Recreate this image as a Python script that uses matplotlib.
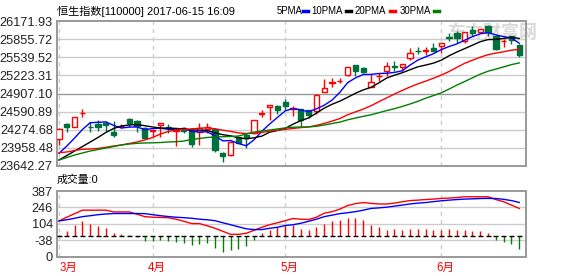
import numpy as np
import matplotlib
matplotlib.use('Agg')
import matplotlib.pyplot as plt
from matplotlib.lines import Line2D

plt.rcParams['font.family'] = ['Liberation Sans', 'Noto Sans CJK SC', 'DejaVu Sans']

# 日K数据 2017-03-16 ~ 2017-06-15
opens = [24113, 24375, 24317, 24562, 24331, 24375, 24392, 24235, 24335, 24462,
         24427, 24300, 24258, 24358, 24323, 24253, 24300, 24258, 24241, 24288,
         24288, 23874, 23834, 24153, 24183, 24218, 24558, 24666, 24689, 24764,
         24645, 24631, 24611, 24602, 24928, 25099, 25125, 25230, 25404, 25347,
         25026, 25204, 25294, 25387, 25369, 25526, 25657, 25657, 25701, 25731,
         25893, 25963, 25828, 26020, 25980, 26085, 25902, 25823, 25905, 25753]
highs = [24297, 24384, 24497, 24645, 24410, 24445, 24419, 24427, 24370, 24474,
         24445, 24314, 24270, 24387, 24375, 24288, 24317, 24270, 24387, 24387,
         24305, 23887, 24070, 24166, 24218, 24453, 24619, 24706, 24698, 24806,
         24689, 24637, 24619, 24890, 25155, 25172, 25183, 25369, 25413, 25364,
         25247, 25265, 25457, 25469, 25430, 25701, 25713, 25713, 25788, 25792,
         25963, 25992, 25984, 26080, 26041, 26102, 25928, 25853, 25910, 25771]
lows = [24009, 24241, 24314, 24502, 24235, 24253, 24253, 24148, 24310, 24323,
        24235, 24122, 24148, 24153, 24218, 23991, 24218, 23982, 24009, 24218,
        23887, 23717, 23817, 24035, 23956, 24201, 24502, 24445, 24549, 24619,
        24514, 24340, 24480, 24549, 24925, 25015, 25085, 25218, 25218, 25260,
        25021, 25125, 25207, 25294, 25294, 25497, 25596, 25573, 25643, 25614,
        25818, 25788, 25788, 25905, 25977, 25910, 25666, 25718, 25771, 25544]
closes = [24288, 24317, 24492, 24567, 24323, 24323, 24358, 24183, 24340, 24401,
          24340, 24126, 24265, 24387, 24300, 24279, 24258, 24026, 24310, 24323,
          23921, 23817, 24066, 24044, 24126, 24445, 24562, 24702, 24619, 24695,
          24649, 24445, 24532, 24881, 24998, 25102, 25130, 25364, 25305, 25287,
          25113, 25212, 25382, 25378, 25427, 25614, 25649, 25663, 25654, 25788,
          25884, 25875, 25980, 25963, 26038, 25985, 25683, 25828, 25846, 25579]

ma5 = [23864, 23991, 24131, 24279, 24398, 24405, 24412, 24351, 24305, 24321,
       24324, 24277, 24295, 24303, 24284, 24272, 24298, 24249, 24235, 24239,
       24167, 24080, 24087, 24035, 23995, 24099, 24248, 24375, 24490, 24604,
       24645, 24621, 24588, 24640, 24703, 24792, 24928, 25096, 25179, 25239,
       25240, 25256, 25260, 25275, 25303, 25403, 25490, 25546, 25601, 25673,
       25727, 25772, 25837, 25898, 25949, 25968, 25929, 25900, 25875, 25785]
ma10 = [23747, 23825, 23904, 23982, 24061, 24140, 24227, 24297, 24340, 24359,
        24365, 24345, 24323, 24305, 24302, 24298, 24288, 24272, 24269, 24262,
        24220, 24188, 24169, 24134, 24117, 24134, 24164, 24232, 24262, 24300,
        24372, 24434, 24481, 24565, 24652, 24719, 24774, 24841, 24911, 24970,
        25015, 25092, 25177, 25226, 25270, 25321, 25373, 25403, 25437, 25488,
        25565, 25631, 25690, 25750, 25811, 25848, 25851, 25868, 25888, 25867]
ma20 = [23874, 23887, 23913, 23934, 23939, 23948, 23969, 23991, 24009, 24035,
        24061, 24096, 24140, 24201, 24244, 24270, 24279, 24291, 24300, 24310,
        24291, 24267, 24246, 24220, 24209, 24216, 24227, 24251, 24265, 24281,
        24297, 24312, 24324, 24351, 24385, 24426, 24469, 24537, 24586, 24635,
        24694, 24764, 24830, 24897, 24961, 25021, 25075, 25122, 25174, 25228,
        25291, 25363, 25434, 25488, 25540, 25584, 25612, 25635, 25663, 25676]
ma30 = [23747, 23790, 23834, 23869, 23904, 23930, 23956, 23982, 24009, 24026,
        24038, 24044, 24047, 24052, 24061, 24066, 24078, 24105, 24122, 24140,
        24148, 24153, 24157, 24166, 24201, 24235, 24253, 24270, 24288, 24307,
        24319, 24323, 24324, 24335, 24357, 24384, 24408, 24448, 24479, 24509,
        24535, 24572, 24609, 24642, 24681, 24724, 24771, 24825, 24871, 24919,
        24984, 25054, 25116, 25181, 25244, 25296, 25333, 25371, 25411, 25441]

dif = [128, 160, 191, 221, 221, 221, 221, 206, 206, 206, 186, 165, 160, 158, 156,
       143, 125, 105, 105, 86, 64, 38, 12, 12, 21, 47, 73, 95, 112, 130, 149, 143,
       140, 160, 195, 208, 230, 261, 278, 287, 280, 275, 274, 282, 294, 304, 308,
       313, 317, 323, 326, 330, 337, 337, 337, 337, 313, 294, 265, 236]
dea = [128, 138, 151, 165, 173, 182, 188, 192, 192, 192, 192, 191, 182, 173, 166,
       160, 156, 151, 143, 138, 130, 112, 95, 77, 60, 53, 53, 64, 73, 88, 95, 108,
       125, 143, 165, 178, 191, 199, 208, 221, 236, 241, 247, 256, 265, 275, 282,
       287, 295, 302, 308, 313, 317, 319, 322, 323, 322, 315, 304, 288]
macd = [6, 41, 90, 128, 105, 82, 67, 23, 12, 5, -12, -49, -49, -34, -49, -55, -64,
        -78, -69, -64, -104, -142, -122, -113, -90, -34, 23, 53, 76, 90, 90, 62, 47,
        76, 99, 128, 140, 149, 149, 134, 90, 73, 53, 56, 47, 62, 56, 56, 47, 47, 56,
        47, 47, 38, 38, 23, -34, -55, -69, -113]

price_ticks = [23642.27, 23958.48, 24274.68, 24590.89, 24907.10,
               25223.31, 25539.52, 25855.72, 26171.93]
vol_ticks = [387, 246, 104, -38, -180]
vol_labels = ['387', '246', '104', '-38', '0']
months = ['3月', '4月', '5月', '6月']
month_idx = [0, 12, 29, 49]

RED = '#FF0000'
GREEN = '#00703C'
W, H = 578, 276

fig = plt.figure(figsize=(W / 100, H / 100), dpi=100)
ax = fig.add_axes([57 / W, 1 - 166 / H, 468.5 / W, 145 / H])
ax2 = fig.add_axes([57 / W, 1 - 256.5 / H, 468.5 / W, 65.5 / H])

x = np.arange(len(closes))
o = np.array(opens); c = np.array(closes)
hi = np.array(highs); lo = np.array(lows)
up = c >= o
cols = np.where(up, RED, GREEN)

for a in (ax, ax2):
    a.set_xlim(-0.26, 59.8)
    for s in a.spines.values():
        s.set_color('#999999')
        s.set_linewidth(1.4)
    a.set_xticks([])
    a.tick_params(axis='y', length=0, pad=3, labelsize=9.2, labelcolor='#222222')
    for m in month_idx:
        a.axvline(m, color='#cccccc', lw=1, ls=(0, (3, 3)), zorder=0)

# 主图
ax.set_ylim(price_ticks[0], price_ticks[-1])
ax.set_yticks(price_ticks)
ax.set_yticklabels(['%.2f' % v for v in price_ticks])
for v in price_ticks[1:-1]:
    ax.axhline(v, color='#999999' if v == price_ticks[4] else '#cccccc', lw=1, zorder=0)

ax.vlines(x, lo, hi, colors=cols, lw=1, zorder=2)
body = np.abs(c - o)
ax.bar(x, body, bottom=np.minimum(o, c), width=0.68,
       color=np.where(up, 'white', GREEN), edgecolor=cols, linewidth=1, zorder=3)

ax.plot(x, ma5, color='#0000FF', lw=1, zorder=4)
ax.plot(x, ma10, color='black', lw=1, zorder=4)
ax.plot(x, ma20, color=RED, lw=1, zorder=4)
ax.plot(x, ma30, color='#008000', lw=1, zorder=4)

# 水印
ax.text(0.835, 0.915, '东方财富网', transform=ax.transAxes, fontsize=13,
        fontweight='bold', color='#dadada', ha='left', va='center', zorder=1)

# 副图
ax2.set_ylim(vol_ticks[-1], vol_ticks[0])
ax2.set_yticks(vol_ticks)
ax2.set_yticklabels(vol_labels)
for v in vol_ticks[1:-1]:
    ax2.axhline(v, color='#cccccc', lw=1, zorder=0)
mc = np.array(macd)
ax2.vlines(x, 0, mc, colors=np.where(mc >= 0, RED, '#008000'), lw=1, zorder=2)
ax2.hlines(np.zeros(len(x)), x - 0.32, x + 0.32, colors='black', lw=1, zorder=3)
ax2.plot(x, dif, color=RED, lw=1, zorder=4)
ax2.plot(x, dea, color='#0000FF', lw=1, zorder=4)

for m, lab in zip(month_idx, months):
    ax2.annotate(lab, xy=(m, 0), xycoords=('data', 'axes fraction'),
                 xytext=(1 if m == 0 else 4, -11), textcoords='offset pixels',
                 ha='left' if m == 0 else 'center', va='center',
                 fontsize=8.3, color=RED)

# 标题与图例
fig.text(57 / W, 1 - 11 / H, '恒生指数[110000] 2017-06-15 16:09',
         fontsize=8.0, va='center', ha='left', color='black')
legend = [('5PMA', 277, 303, '#0000FF'), ('10PMA', 311, 346, 'black'),
          ('20PMA', 355, 390, RED), ('30PMA', 400, 434, '#008000')]
for name, tx, dx, col in legend:
    fig.text(tx / W, 1 - 11 / H, name, fontsize=6.9, va='center', ha='left')
    fig.add_artist(Line2D([dx / W, (dx + 5) / W], [1 - 11 / H, 1 - 11 / H],
                          transform=fig.transFigure, color=col, lw=2.5))

fig.text(57 / W, 1 - 180 / H, '成交量:0', fontsize=7.8, va='center', ha='left')

fig.savefig('out.png', dpi=100)
